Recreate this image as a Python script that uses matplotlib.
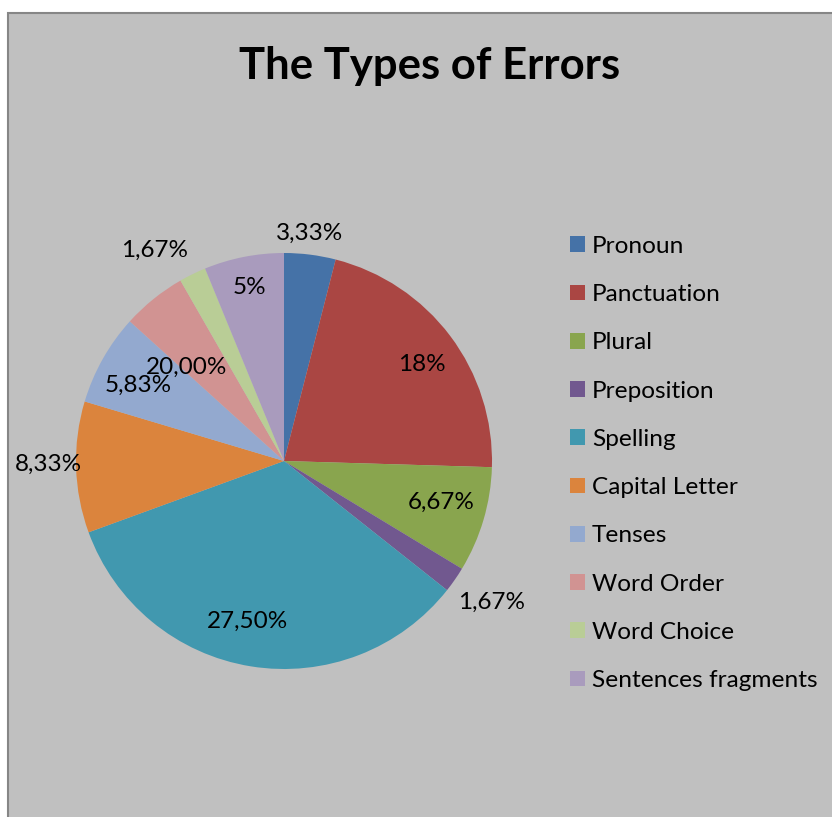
import matplotlib
matplotlib.use("Agg")
import matplotlib.pyplot as plt
import numpy as np
from matplotlib.patches import Rectangle

categories = ["Pronoun", "Panctuation", "Plural", "Preposition", "Spelling",
              "Capital Letter", "Tenses", "Word Order", "Word Choice",
              "Sentences fragments"]
values = [4.0, 21.5, 8.2, 2.0, 33.8, 10.2, 7.1, 5.0, 2.1, 6.2]
label_texts = ["3,33%", "18%", "6,67%", "1,67%", "27,50%", "8,33%",
               "5,83%", "20,00%", "1,67%", "5%"]
colors = ["#4572A7", "#AA4643", "#89A54E", "#71588F", "#4198AF",
          "#DB843D", "#93A9CF", "#D19392", "#B9CD96", "#A99BBD"]

# label placement: (radius factor, angle offset in degrees, clockwise)
label_r = [1.10, 0.81, 0.78, 1.21, 0.79, 1.135, 0.79, 0.65, 1.19, 0.85]
label_da = [-0.7, 2.0, -1.8, -0.5, 3.7, 0.8, -2.0, -7.2, -5.4, 0.0]

W, H = 832, 817
fig = plt.figure(figsize=(W / 100, H / 100), dpi=100)
fig.patch.set_facecolor("white")
bg = Rectangle((8 / W, -0.02), 1 - 8 / W + 0.02, (H - 13) / H + 0.02,
               transform=fig.transFigure, facecolor="#C0C0C0",
               edgecolor="#868686", linewidth=1.5, zorder=-10)
fig.patches.append(bg)

cx, cy, r = 284, 461, 208
ax = fig.add_axes([(cx - r) / W, (H - cy - r) / H, 2 * r / W, 2 * r / H])
ax.set_zorder(5)
ax.patch.set_alpha(0)
wedges, _ = ax.pie(values, colors=colors, startangle=90, counterclock=False,
                   radius=1.0, wedgeprops=dict(linewidth=0))
ax.set_xlim(-1, 1)
ax.set_ylim(-1, 1)
ax.set_aspect("auto")
ax.axis("off")

font = "Lato"
for w, t, rf, da in zip(wedges, label_texts, label_r, label_da):
    mid = np.deg2rad((w.theta1 + w.theta2) / 2 - da)
    ax.text(rf * np.cos(mid), rf * np.sin(mid), t, ha="center", va="center",
            fontsize=17.5, family=font, color="black", clip_on=False)

fig.text(430 / W, 1 - 66 / H, "The Types of Errors", ha="center", va="center",
         fontsize=31.4, fontweight="bold", family=font, color="black")

leg = fig.legend(wedges, categories, loc="upper left",
                 bbox_to_anchor=(560 / W, 1 - 226 / H), frameon=False,
                 prop=dict(family=font, size=17.6), handlelength=0.61,
                 handleheight=0.61, handletextpad=0.29, labelspacing=1.115,
                 borderaxespad=0)
leg.set_zorder(6)

fig.savefig("out.png", dpi=100, facecolor=fig.get_facecolor())
